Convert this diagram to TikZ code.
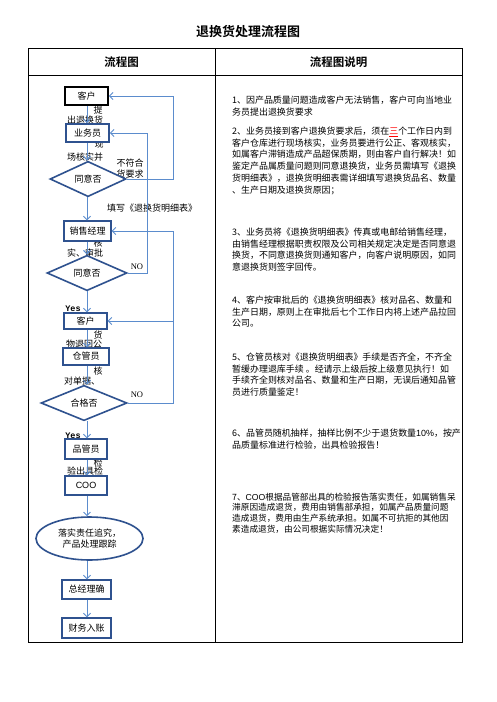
\documentclass[tikz,border=0pt]{standalone}
\usepackage{fontspec}
\setmainfont{Noto Sans CJK SC}[BoldFont={Noto Sans CJK SC Bold}]
\newfontfamily\serifl{Liberation Serif}
\newfontfamily\monol{Liberation Mono}
\newfontfamily\sansl{Liberation Sans}
\usetikzlibrary{shapes.geometric,arrows.meta}
\definecolor{boxblue}{RGB}{47,82,143}
\definecolor{arrblue}{RGB}{91,140,205}
\begin{document}
\begin{tikzpicture}[x=1pt,y=-1pt,
  box/.style={draw=boxblue, line width=1.4pt, fill=white, inner sep=0, font=\fontsize{9}{10}\selectfont},
  dia/.style={diamond, draw=boxblue, line width=1.6pt, fill=white, inner sep=0, font=\fontsize{9}{10}\selectfont},
  arr/.style={draw=arrblue, line width=0.9pt, -{Straight Barb[length=3.5pt,width=7pt]}},
  lbl/.style={font=\fontsize{9}{10}\selectfont, inner sep=0},
  desc/.style={anchor=north west, align=left, inner sep=0, font=\fontsize{8.95}{11.8}\selectfont},
  hdr/.style={font=\fontsize{11.5}{12}\selectfont\bfseries, inner sep=0}]
\useasboundingbox (0,0) rectangle (496,702);
\fill[white] (0,0) rectangle (496,702);

% title and table
\node[font=\fontsize{13}{14}\selectfont\bfseries, inner sep=0] (title) at (248,32) {退换货处理流程图};
\draw[line width=0.9pt] (28,48) rectangle (462,642);
\draw[line width=0.9pt] (28,75) -- (462,75);
\draw[line width=0.9pt] (215,48) -- (215,642);
\node[hdr] (h1) at (121.5,62) {流程图};
\node[hdr] (h2) at (338.5,62) {流程图说明};

% clipped labels (drawn first, boxes cover them)
\node[lbl] (t1a) at (98,110) {提};
\node[lbl] (t1b) at (85,120) {出退换货};
\node[lbl] (t2a) at (99,144) {现};
\node[lbl] (t2b) at (85,157) {场核实并};
\node[lbl] (t3a) at (130,163) {不符合};
\node[lbl] (t3b) at (130,174) {货要求};
\node[lbl] (t4) at (152,208) {填写《退换货明细表》};
\node[lbl] (t5a) at (98,243) {核};
\node[lbl] (t5b) at (85,253) {实、审批};
\node[lbl, font=\fontsize{8.5}{9}\serifl] (no1) at (137,267) {NO};
\node[lbl, font=\fontsize{8.5}{9}\monol\bfseries] (yes1) at (73,309) {Yes};
\node[lbl] (t6a) at (98,335) {货};
\node[lbl] (t6b) at (84,344) {物退回公};
\node[lbl] (t7a) at (98,371) {核};
\node[lbl] (t7b) at (82,381) {对单据、};
\node[lbl, font=\fontsize{8.5}{9}\serifl] (no2) at (137,395) {NO};
\node[lbl, font=\fontsize{8.5}{9}\monol\bfseries] (yes2) at (73,436) {Yes};
\node[lbl] (t8a) at (98,463) {检};
\node[lbl] (t8b) at (85,471) {验出具检};

% flow nodes
\node[box, draw=black, line width=1.8pt, minimum width=43pt, minimum height=18pt] (k1) at (86.5,96) {客户};
\node[box, line width=1.8pt, minimum width=43pt, minimum height=18pt] (ywy) at (87.5,133) {业务员};
\node[dia, minimum width=76pt, minimum height=34pt] (d1) at (88,179) {同意否};
\node[box, minimum width=47pt, minimum height=20pt] (xsjl) at (87.5,231) {销售经理};
\node[dia, minimum width=80pt, minimum height=31pt] (d2) at (87,273) {同意否};
\node[box, minimum width=43pt, minimum height=16pt] (k2) at (85.5,321) {客户};
\node[box, minimum width=46pt, minimum height=17pt] (cgy) at (86,356.5) {仓管员};
\node[dia, minimum width=86pt, minimum height=34pt] (d3) at (84,403) {合格否};
\node[box, minimum width=42pt, minimum height=20pt] (pgy) at (86,449) {品管员};
\node[box, minimum width=42pt, minimum height=19pt, font=\fontsize{9}{10}\sansl] (coo) at (86,485.5) {COO};
\node[ellipse, draw=boxblue, line width=1.6pt, fill=white, inner sep=0, minimum width=107pt, minimum height=43pt, align=center, font=\fontsize{9}{11}\selectfont] (ell) at (89.5,538.5) {落实责任追究，\\产品处理跟踪};
\node[box, minimum width=49pt, minimum height=19pt] (zjl) at (86.5,589.5) {总经理确};
\node[box, minimum width=49pt, minimum height=20pt] (cw) at (86.5,628) {财务入账};

% main vertical arrows
\coordinate (cx) at (87,0);
\draw[arr] (k1.south -| cx) -- (ywy.north -| cx);
\draw[arr] (ywy.south -| cx) -- (d1.north -| cx);
\draw[arr] (d1.south -| cx) -- (xsjl.north -| cx);
\draw[arr] (xsjl.south -| cx) -- (d2.north -| cx);
\draw[arr] (d2.south -| cx) -- (k2.north -| cx);
\draw[arr] (k2.south -| cx) -- (cgy.north -| cx);
\draw[arr] (cgy.south -| cx) -- (d3.north -| cx);
\draw[arr] (d3.south -| cx) -- (pgy.north -| cx);
\draw[arr] (pgy.south -| cx) -- (coo.north -| cx);
\draw[arr] (coo.south -| cx) -- (ell.north -| cx);
\draw[arr] (ell.south -| cx) -- (zjl.north -| cx);
\draw[arr] (zjl.south -| cx) -- (cw.north -| cx);

% loops
\coordinate (r1) at (173,0);
\coordinate (r2) at (147,0);
\draw[arr] (d1.east) -- (d1.east -| r1) -- (k1.east -| r1) -- (k1.east);
\draw[arr] (d2.east) -- (d2.east -| r2) -- (ywy.east -| r2) -- (ywy.east);
\draw[arr] (d3.east) -- (d3.east -| r1) -- (xsjl.east -| r1) -- (xsjl.east);
\draw[arr] (k2.east -| r1) -- (k2.east);

% description column
\node[desc] (p1) at (232,95.5) {1、因产品质量问题造成客户无法销售，客户可向当地业\\务员提出退换货要求};
\node[desc] (p2) at (232,126.5) {2、业务员接到客户退换货要求后，须在\textcolor{red}{\underline{三}}个工作日内到\\客户仓库进行现场核实，业务员要进行公正、客观核实，\\如属客户滞销造成产品超保质期，则由客户自行解决！如\\鉴定产品属质量问题则同意退换货，业务员需填写《退换\\货明细表》，退换货明细表需详细填写退换货品名、数量\\、生产日期及退换货原因；};
\node[desc] (p3) at (232,227.5) {3、业务员将《退换货明细表》传真或电邮给销售经理，\\由销售经理根据职责权限及公司相关规定决定是否同意退\\换货，不同意退换货则通知客户，向客户说明原因，如同\\意退换货则签字回传。};
\node[desc] (p4) at (232,295.5) {4、客户按审批后的《退换货明细表》核对品名、数量和\\生产日期，原则上在审批后七个工作日内将上述产品拉回\\公司。};
\node[desc] (p5) at (232,352.5) {5、仓管员核对《退换货明细表》手续是否齐全，不齐全\\暂缓办理退库手续 。经请示上级后按上级意见执行！如\\手续齐全则核对品名、数量和生产日期，无误后通知品管\\员进行质量鉴定！};
\node[desc] (p6) at (232,428.5) {6、品管员随机抽样，抽样比例不少于退货数量{\sansl 10\%}，按产\\品质量标准进行检验，出具检验报告！};
\node[desc, font=\fontsize{8.65}{10.8}\selectfont] (p7) at (232,492.5) {7、{\sansl COO}根据品管部出具的检验报告落实责任，如属销售呆\\滞原因造成退货，费用由销售部承担，如属产品质量问题\\造成退货，费用由生产系统承担。如属不可抗拒的其他因\\素造成退货，由公司根据实际情况决定！};
\end{tikzpicture}
\end{document}
